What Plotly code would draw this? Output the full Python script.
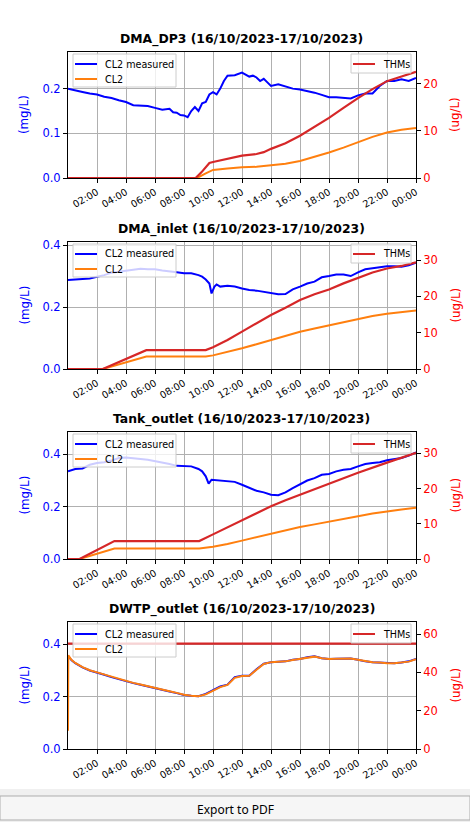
import pandas as pd
import plotly.graph_objects as go

W, H = 470, 822
BASE = pd.Timestamp("2023-10-16 00:00")
PERIOD = "(16/10/2023-17/10/2023)"
STATIONS = ["DMA_DP3", "DMA_inlet", "Tank_outlet", "DWTP_outlet"]
TICK_LABELS = ["02:00", "04:00", "06:00", "08:00", "10:00", "12:00",
               "14:00", "16:00", "18:00", "20:00", "22:00", "00:00"]
TICK_HOURS = [2, 4, 6, 8, 10, 12, 14, 16, 18, 20, 22, 24]

# ---- DMA_DP3 ----
dp3_meas_h = [0, 0.5, 1, 1.5, 2, 2.5, 3, 3.5, 4, 4.5, 5, 5.5, 6, 6.5, 7, 7.25, 7.5, 7.75, 8,
              8.25, 8.5, 8.75, 9, 9.25, 9.5, 9.75, 10, 10.25, 10.5, 10.75, 11, 11.5, 12,
              12.25, 12.5, 12.75, 13, 13.25, 13.5, 13.75, 14, 14.5, 15, 15.5, 16, 16.5, 17,
              17.5, 18, 18.5, 19, 19.5, 20, 20.5, 21, 21.5, 22, 22.5, 23, 23.5, 24]
dp3_meas = [0.200, 0.197, 0.1925, 0.189, 0.187, 0.182, 0.179, 0.174, 0.170, 0.163,
            0.162, 0.161, 0.157, 0.153, 0.155, 0.147, 0.146, 0.141, 0.140,
            0.136, 0.150, 0.159, 0.150, 0.167, 0.170, 0.187, 0.192,
            0.187, 0.200, 0.217, 0.229, 0.230, 0.236,
            0.232, 0.227, 0.229, 0.225, 0.217, 0.222, 0.214, 0.206,
            0.210, 0.205, 0.200, 0.198, 0.195, 0.191, 0.186, 0.181,
            0.181, 0.180, 0.178, 0.185, 0.189, 0.189, 0.206, 0.217,
            0.217, 0.221, 0.217, 0.224]
dp3_cl2_h = [0, 8.9, 9.5, 10, 11, 12, 13, 14, 15, 16, 17, 18, 19, 20, 21, 22, 23, 24]
dp3_cl2 = [0, 0, 0.0105, 0.018, 0.021, 0.024, 0.025, 0.028, 0.032, 0.038, 0.047,
           0.057, 0.068, 0.080, 0.092, 0.102, 0.108, 0.112]
dp3_thm_h = [0, 8.8, 9.2, 9.75, 10, 11, 12, 13, 13.5, 14, 15, 16, 17, 18, 19, 20, 21, 22, 23, 24]
dp3_thm = [0, 0, 1.2, 3.2, 3.4, 4.0, 4.75, 5.1, 5.5, 6.2, 7.4, 9.0, 10.9, 12.8, 14.9,
           17.0, 18.9, 20.6, 21.6, 22.6]

# ---- DMA_inlet ----
inl_meas_h = [0, 0.5, 1, 1.5, 2, 2.5, 3, 3.5, 4, 4.5, 5, 5.5, 6, 6.5, 7, 7.5, 8, 8.5, 9,
              9.25, 9.5, 9.75, 9.9, 10.1, 10.25, 10.5, 11, 11.5, 12, 12.5, 13, 13.5, 14,
              14.5, 15, 15.5, 16, 16.5, 17, 17.5, 18, 18.5, 19, 19.5, 20, 20.5, 21, 21.5,
              22, 22.5, 23, 23.5, 24]
inl_meas = [0.287, 0.289, 0.290, 0.292, 0.298, 0.303, 0.311, 0.314, 0.317, 0.322,
            0.324, 0.322, 0.322, 0.318, 0.316, 0.312, 0.309, 0.309, 0.303,
            0.298, 0.289, 0.276, 0.244, 0.266, 0.273, 0.266, 0.269, 0.266, 0.260,
            0.255, 0.253, 0.249, 0.246, 0.241, 0.242, 0.257, 0.266, 0.276, 0.282,
            0.296, 0.300, 0.305, 0.305, 0.300, 0.312, 0.322, 0.325, 0.328,
            0.332, 0.332, 0.330, 0.335, 0.343]
inl_cl2_h = [0, 2.4, 5.4, 9.5, 10, 11, 12, 13, 14, 15, 16, 17, 18, 19, 20, 21, 22, 23, 24]
inl_cl2 = [0, 0, 0.040, 0.040, 0.044, 0.055, 0.067, 0.080, 0.094, 0.108, 0.120,
           0.131, 0.141, 0.152, 0.162, 0.171, 0.178, 0.184, 0.189]
inl_thm_h = [0, 2.4, 5.4, 9.5, 10, 11, 12, 13, 14, 15, 16, 17, 18, 19, 20, 21, 22, 23, 24]
inl_thm = [0, 0, 5.2, 5.2, 6.0, 8.0, 10.3, 12.6, 14.9, 16.9, 19.0, 20.6, 21.9, 23.6,
           25.2, 26.6, 27.7, 28.4, 29.4]

# ---- Tank_outlet ----
tank_meas_h = [0, 0.5, 1, 1.5, 2, 2.5, 3, 3.5, 4, 4.5, 5, 5.5, 6, 6.5, 7, 7.5, 8, 8.5, 9,
               9.25, 9.5, 9.7, 9.9, 10.5, 11, 11.5, 12, 12.5, 13, 13.5, 14, 14.5, 15,
               15.5, 16, 16.5, 17, 17.5, 18, 18.5, 19, 19.5, 20, 20.5, 21, 21.5, 22,
               22.5, 23, 23.5, 24]
tank_meas = [0.334, 0.343, 0.345, 0.359, 0.366, 0.369, 0.375, 0.385, 0.387, 0.385,
             0.381, 0.378, 0.373, 0.368, 0.362, 0.355, 0.353, 0.353, 0.343,
             0.334, 0.315, 0.287, 0.302, 0.299, 0.296, 0.294, 0.283, 0.270, 0.260,
             0.254, 0.245, 0.243, 0.254, 0.270, 0.283, 0.299, 0.308, 0.321, 0.324,
             0.334, 0.340, 0.343, 0.353, 0.362, 0.366, 0.369, 0.376, 0.381, 0.385,
             0.394, 0.406]
tank_cl2_h = [0, 0.8, 3.2, 9.05, 10, 11, 12, 13, 14, 15, 16, 17, 18, 19, 20, 21, 22, 23, 24]
tank_cl2 = [0, 0, 0.040, 0.040, 0.047, 0.057, 0.070, 0.083, 0.097, 0.110, 0.122,
            0.132, 0.143, 0.153, 0.163, 0.173, 0.182, 0.189, 0.195]
tank_thm_h = [0, 0.8, 3.2, 9.05, 10, 11, 12, 13, 14, 15, 16.5, 18, 20, 22, 24]
tank_thm = [0, 0, 5.1, 5.1, 7.0, 9.0, 11.1, 13.0, 15.0, 16.7, 19.1, 21.5, 24.5, 27.4, 30.2]

# ---- DWTP_outlet ----
dwtp_meas_h = [0, 0.25, 0.5, 1, 1.5, 2, 2.5, 3, 3.5, 4, 4.5, 5, 5.5, 6, 6.5, 7, 7.5, 8,
               8.5, 9, 9.5, 10, 10.5, 11, 11.5, 12, 12.5, 13, 13.5, 14, 14.5, 15, 15.5,
               16, 16.5, 17, 17.5, 18, 18.5, 19, 19.5, 20, 20.5, 21, 21.5, 22, 22.5, 23,
               23.5, 24]
dwtp_meas = [0.355, 0.338, 0.327, 0.311, 0.299, 0.292, 0.283, 0.274, 0.266, 0.257,
             0.251, 0.245, 0.238, 0.232, 0.225, 0.219, 0.213, 0.206, 0.203, 0.201,
             0.210, 0.223, 0.238, 0.245, 0.274, 0.279, 0.279, 0.304, 0.325, 0.331,
             0.332, 0.334, 0.340, 0.343, 0.350, 0.353, 0.346, 0.343, 0.344, 0.344,
             0.345, 0.340, 0.334, 0.331, 0.330, 0.327, 0.327, 0.330, 0.334, 0.343]
dwtp_cl2_h = [0, 0.02, 0.25, 0.5, 1, 1.5, 2, 2.5, 3, 3.5, 4, 4.5, 5, 5.5, 6, 6.5, 7, 7.5,
              8, 8.5, 9, 9.5, 10, 10.5, 11, 11.5, 12, 12.5, 13, 13.5, 14, 14.5, 15, 15.5,
              16, 16.5, 17, 17.5, 18, 18.5, 19, 19.5, 20, 20.5, 21, 21.5, 22, 22.5, 23,
              23.5, 24]
dwtp_cl2 = [0.07, 0.357, 0.339, 0.328, 0.312, 0.300, 0.292, 0.284, 0.275, 0.267, 0.258,
            0.252, 0.246, 0.239, 0.233, 0.226, 0.220, 0.214, 0.207, 0.203, 0.201,
            0.208, 0.221, 0.236, 0.244, 0.271, 0.278, 0.279, 0.302, 0.324, 0.331,
            0.332, 0.334, 0.339, 0.343, 0.349, 0.352, 0.346, 0.343, 0.344, 0.344,
            0.345, 0.340, 0.335, 0.331, 0.330, 0.327, 0.327, 0.329, 0.333, 0.342]
dwtp_thm_h = [0, 24]
dwtp_thm = [55.0, 55.0]

series = [
    (dp3_meas_h, dp3_meas, dp3_cl2_h, dp3_cl2, dp3_thm_h, dp3_thm),
    (inl_meas_h, inl_meas, inl_cl2_h, inl_cl2, inl_thm_h, inl_thm),
    (tank_meas_h, tank_meas, tank_cl2_h, tank_cl2, tank_thm_h, tank_thm),
    (dwtp_meas_h, dwtp_meas, dwtp_cl2_h, dwtp_cl2, dwtp_thm_h, dwtp_thm),
]
left_ranges = [(0.282, 0.1), (0.41, 0.2), (0.484, 0.2), (0.484, 0.2)]
right_ranges = [(26.8, 10), (35, 10), (36.1, 10), (66.3, 20)]
# pixel top/bottom of each axes box
boxes = [(52, 178), (242, 369), (432, 559), (622, 749)]
X0, X1 = 68, 416

BLUE = "#0000ff"
ORANGE = "#ff7f0e"
RED = "#d62728"
FONT = "DejaVu Sans"


def to_time(hours):
    return [BASE + pd.Timedelta(hours=h) for h in hours]


def px(p):
    return p / W


def py(p):
    return 1 - p / H


fig = go.Figure()
layout = dict(
    width=W, height=H, margin=dict(l=0, r=0, t=0, b=0),
    paper_bgcolor="white", plot_bgcolor="white",
    font=dict(family=FONT, size=12, color="black"),
    showlegend=False,
)
annotations = []
shapes = []


def legend_entry(x0, x1, y, color, text, tx):
    shapes.append(dict(type="line", xref="paper", yref="paper", x0=px(x0), x1=px(x1),
                       y0=py(y), y1=py(y), line=dict(color=color, width=2), layer="above"))
    annotations.append(dict(text=text, x=px(tx), y=py(y), xref="paper", yref="paper",
                            showarrow=False, xanchor="left", yanchor="middle",
                            font=dict(size=9.6, color="black", family=FONT)))


def legend_box(x0, x1, y0, y1):
    shapes.append(dict(type="rect", xref="paper", yref="paper", x0=px(x0), x1=px(x1),
                       y0=py(y1), y1=py(y0), fillcolor="rgba(255,255,255,0.8)",
                       line=dict(color="#cccccc", width=1), layer="above"))


for i, (mh, mv, ch, cv, th, tv) in enumerate(series):
    n = i + 1
    xa = "x" if n == 1 else f"x{n}"
    ya_l = "y" if n == 1 else f"y{2 * n - 1}"
    ya_r = f"y{2 * n}"
    top, bot = boxes[i]

    fig.add_trace(go.Scatter(x=to_time(mh), y=mv, mode="lines", name="CL2 measured",
                             line=dict(color=BLUE, width=2), xaxis=xa, yaxis=ya_l))
    fig.add_trace(go.Scatter(x=to_time(ch), y=cv, mode="lines", name="CL2",
                             line=dict(color=ORANGE, width=2), xaxis=xa, yaxis=ya_l))
    fig.add_trace(go.Scatter(x=to_time(th), y=tv, mode="lines", name="THMs",
                             line=dict(color=RED, width=2.2), xaxis=xa, yaxis=ya_r))

    xkey = "xaxis" if n == 1 else f"xaxis{n}"
    ylkey = "yaxis" if n == 1 else f"yaxis{2 * n - 1}"
    yrkey = f"yaxis{2 * n}"
    layout[xkey] = dict(
        domain=[px(X0), px(X1)], anchor=ya_l, automargin=False,
        range=[BASE, BASE + pd.Timedelta(hours=24)],
        tickvals=to_time(TICK_HOURS), ticktext=TICK_LABELS, tickangle=-30,
        tickfont=dict(size=9.7, color="black"),
        showgrid=True, gridcolor="#b0b0b0", gridwidth=1,
        showline=True, linecolor="black", linewidth=1, mirror=True,
        ticks="outside", ticklen=4, tickcolor="black", zeroline=False,
    )
    layout[ylkey] = dict(
        domain=[py(bot), py(top)], anchor=xa, automargin=False,
        range=[0, left_ranges[i][0]], dtick=left_ranges[i][1], tickformat=".1f",
        tickfont=dict(size=11.5, color=BLUE),
        showgrid=True, gridcolor="#b0b0b0", gridwidth=1,
        showline=True, linecolor="black", linewidth=1,
        ticks="outside", ticklen=4, tickcolor="black", zeroline=False,
    )
    layout[yrkey] = dict(
        domain=[py(bot), py(top)], anchor=xa, overlaying=ya_l, side="right",
        automargin=False,
        range=[0, right_ranges[i][0]], dtick=right_ranges[i][1],
        tickfont=dict(size=11.5, color="#ff0000"),
        showgrid=False, showline=True, linecolor="black", linewidth=1,
        ticks="outside", ticklen=4, tickcolor="black", zeroline=False,
    )

    mid = (top + bot) / 2
    annotations.append(dict(text="(mg/L)", x=px(24), y=py(mid), xref="paper",
                            yref="paper", showarrow=False, textangle=-90,
                            xanchor="center", yanchor="middle",
                            font=dict(size=11.8, color=BLUE, family=FONT)))
    annotations.append(dict(text="(ug/L)", x=px(455), y=py(mid), xref="paper",
                            yref="paper", showarrow=False, textangle=-90,
                            xanchor="center", yanchor="middle",
                            font=dict(size=11.8, color="#ff0000", family=FONT)))
    annotations.append(dict(
        text=f"<b>{STATIONS[i]} {PERIOD}</b>", x=px((X0 + X1) / 2), y=py(top - 13),
        xref="paper", yref="paper", showarrow=False, xanchor="center",
        yanchor="middle", font=dict(size=12.4, color="black", family=FONT)))

    # legends (matplotlib-style boxes in the upper corners)
    legend_box(73, 176, top + 2, top + 35)
    legend_entry(75, 97, top + 12, BLUE, "CL2 measured", 102.5)
    legend_entry(75, 97, top + 27, ORANGE, "CL2", 102.5)
    legend_box(351, 411, top + 2, top + 21)
    legend_entry(353, 375, top + 12, RED, "THMs", 380.5)

# window footer with the export button
shapes.append(dict(type="rect", xref="paper", yref="paper", x0=0, x1=1, y0=0, y1=py(789),
                   fillcolor="#f0f0f0", line=dict(width=0), layer="below"))
shapes.append(dict(type="rect", xref="paper", yref="paper", x0=0, x1=1, y0=py(820),
                   y1=py(796), fillcolor="#f6f6f6", line=dict(color="#adadad", width=1)))
annotations.append(dict(text="Export to PDF", x=0.5, y=py(809), xref="paper",
                        yref="paper", showarrow=False, xanchor="center",
                        yanchor="middle",
                        font=dict(size=12, color="black", family="Noto Sans")))
layout["annotations"] = annotations
layout["shapes"] = shapes

fig.update_layout(**layout)
# the page body has an 8px default margin; drop it so the figure fills the window
fig.write_html("out.html", config={"displayModeBar": False},
               post_script="document.body.style.margin='0';")
